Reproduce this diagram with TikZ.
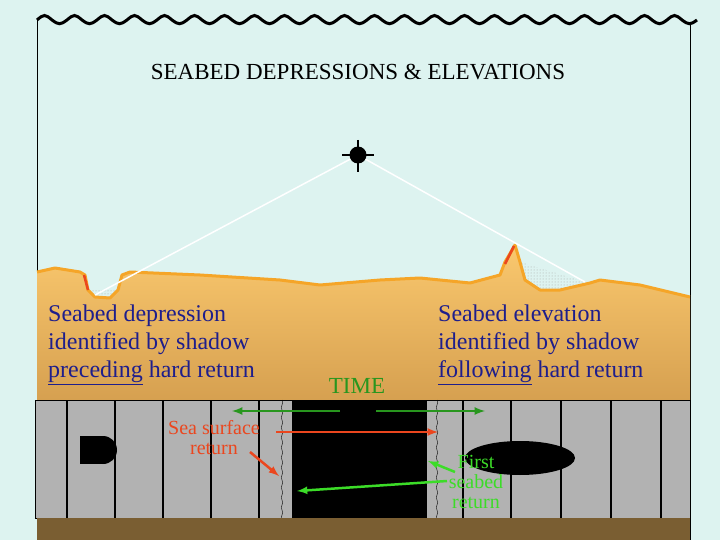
\documentclass[tikz,border=0pt]{standalone}
\usepackage{fontspec}
\setmainfont{Liberation Serif}
\usetikzlibrary{patterns}
\definecolor{seacyan}{RGB}{221,243,240}
\definecolor{sandtop}{RGB}{250,200,110}
\definecolor{sandlow}{RGB}{214,160,80}
\definecolor{sandedge}{RGB}{245,165,40}
\definecolor{textblue}{RGB}{30,30,140}
\definecolor{timegreen}{RGB}{40,150,30}
\definecolor{litegreen}{RGB}{60,220,40}
\definecolor{hotred}{RGB}{235,70,30}
\definecolor{mudbrown}{RGB}{122,94,50}
\definecolor{stripgray}{RGB}{178,178,178}
\begin{document}
\begin{tikzpicture}
	[x=1pt,y=-1pt,
	label/.style={font=\fontsize{24}{28}\selectfont,align=left,anchor=north west,inner sep=0pt,text=textblue},
	note/.style={font=\fontsize{20}{20}\selectfont,align=center,inner sep=1pt},
	beam/.style={white,line width=1.5pt},
	ret/.style={-latex,line width=2.5pt}
	]
	% frame and sky
	\fill[seacyan] (0,0) rectangle (720,540);
	\useasboundingbox (0,0) rectangle (720,540);
	\draw[line width=0.8pt] (37,540) -- (37,20);
	\draw[line width=0.8pt] (690,540) -- (690,22);
	\draw[line width=3pt] (37,20) \foreach \i in {0,...,21} {.. controls ++(7,-6) and ++(-7,-6) .. ++(15,0) .. controls ++(7,5) and ++(-7,5) .. ++(15,0)} ;
	\node (title) at (358,72) {\fontsize{23}{26}\selectfont SEABED DEPRESSIONS \& ELEVATIONS};
	% seabed
	\shade[top color=sandtop,bottom color=sandlow] (37,272) -- (55,268) -- (80,272) -- (85,275) -- (88,290) -- (95,297)
		-- (110,298) -- (118,290) -- (122,275) -- (130,272) -- (200,275) -- (280,280) -- (320,285) -- (380,280)
		-- (420,278) -- (470,283) -- (500,275) -- (505,262) -- (515,245) -- (520,262) -- (525,280) -- (540,290)
		-- (560,290) -- (590,283) -- (600,280) -- (640,285) -- (690,297) -- (690,400) -- (37,400) -- cycle;
	\fill[pattern=dots,pattern color=gray!70] (88,290) -- (95,297) -- (110,298) -- (118,290) -- (105,290) -- cycle;
	\fill[pattern=dots,pattern color=gray!70] (520,262) -- (525,280) -- (540,290) -- (560,290) -- (585,282) -- cycle;
	\draw[sandedge,line width=3pt,line join=round] (37,272) -- (55,268) -- (80,272) -- (85,275) -- (88,290) -- (95,297)
		-- (110,298) -- (118,290) -- (122,275) -- (130,272) -- (200,275) -- (280,280) -- (320,285) -- (380,280)
		-- (420,278) -- (470,283) -- (500,275) -- (505,262) -- (515,245) -- (520,262) -- (525,280) -- (540,290)
		-- (560,290) -- (590,283) -- (600,280) -- (640,285) -- (690,297);
	\draw[hotred,line width=2.5pt] (84,275) -- (88,290);
	\draw[hotred,line width=2.5pt] (505,264) -- (514,246);
	% sonar
	\node[circle,fill,inner sep=0pt,minimum size=17pt] (fish) at (358,155) {};
	\draw[line width=1.5pt] (342,155) -- (374,155) (358,140) -- (358,172);
	\coordinate (pitL) at (95,295);
	\coordinate (peakR) at (585,282);
	\draw[beam] (fish) -- (pitL);
	\draw[beam] (fish) -- (peakR);
	\node[label] (depr) at (48,305) {Seabed depression\\identified by shadow\\\underline{preceding} hard return};
	\node[label] (elev) at (438,305) {Seabed elevation\\identified by shadow\\\underline{following} hard return};
	\node[note,text=timegreen,font=\fontsize{23}{23}\selectfont] (time) at (357,386) {TIME};
	% record strip
	\fill[stripgray] (35,400) rectangle (690,518);
	\fill (292,400) rectangle (427,518);
	\fill (80,436) rectangle (102,464);
	\fill (103,450) circle (14);
	\fill (520,458) ellipse (55 and 17);
	\foreach \x in {67,115,163,211,259,463,511,561,611,661}
		\draw[line width=1.2pt] (\x,400) -- (\x,518);
	\draw[line width=0.8pt] (35,400) rectangle (690,518);
	\draw[line width=0.4pt] (282,400) \foreach \i in {1,...,12} {.. controls ++(2,4) and ++(-2,-4) .. ++(0,10)} ;
	\draw[line width=0.4pt] (437,400) \foreach \i in {1,...,12} {.. controls ++(2,4) and ++(-2,-4) .. ++(0,10)} ;
	\fill[mudbrown] (37,518) rectangle (690,540);
	% returns
	\coordinate (tL0) at (340,411);
	\coordinate (tL1) at (232,411);
	\coordinate (tR0) at (376,411);
	\coordinate (tR1) at (485,411);
	\draw[ret,timegreen] (tL0) -- (tL1);
	\draw[ret,timegreen] (tR0) -- (tR1);
	\node[note,text=hotred] (surf) at (214,438) {Sea surface\\return};
	\coordinate (surfL) at (276,432);
	\coordinate (surfR) at (438,432);
	\coordinate (surfW) at (279,476);
	\draw[ret,hotred] (surfL) -- (surfR);
	\draw[ret,hotred] (250,452) -- (surfW);
	\node[note,text=litegreen] (first) at (476,482) {First\\seabed\\return};
	\coordinate (bedR) at (428,461);
	\coordinate (bedL) at (297,491);
	\draw[ret,litegreen] (455,472) -- (bedR);
	\draw[ret,litegreen] (447,481) -- (bedL);
\end{tikzpicture}
\end{document}
